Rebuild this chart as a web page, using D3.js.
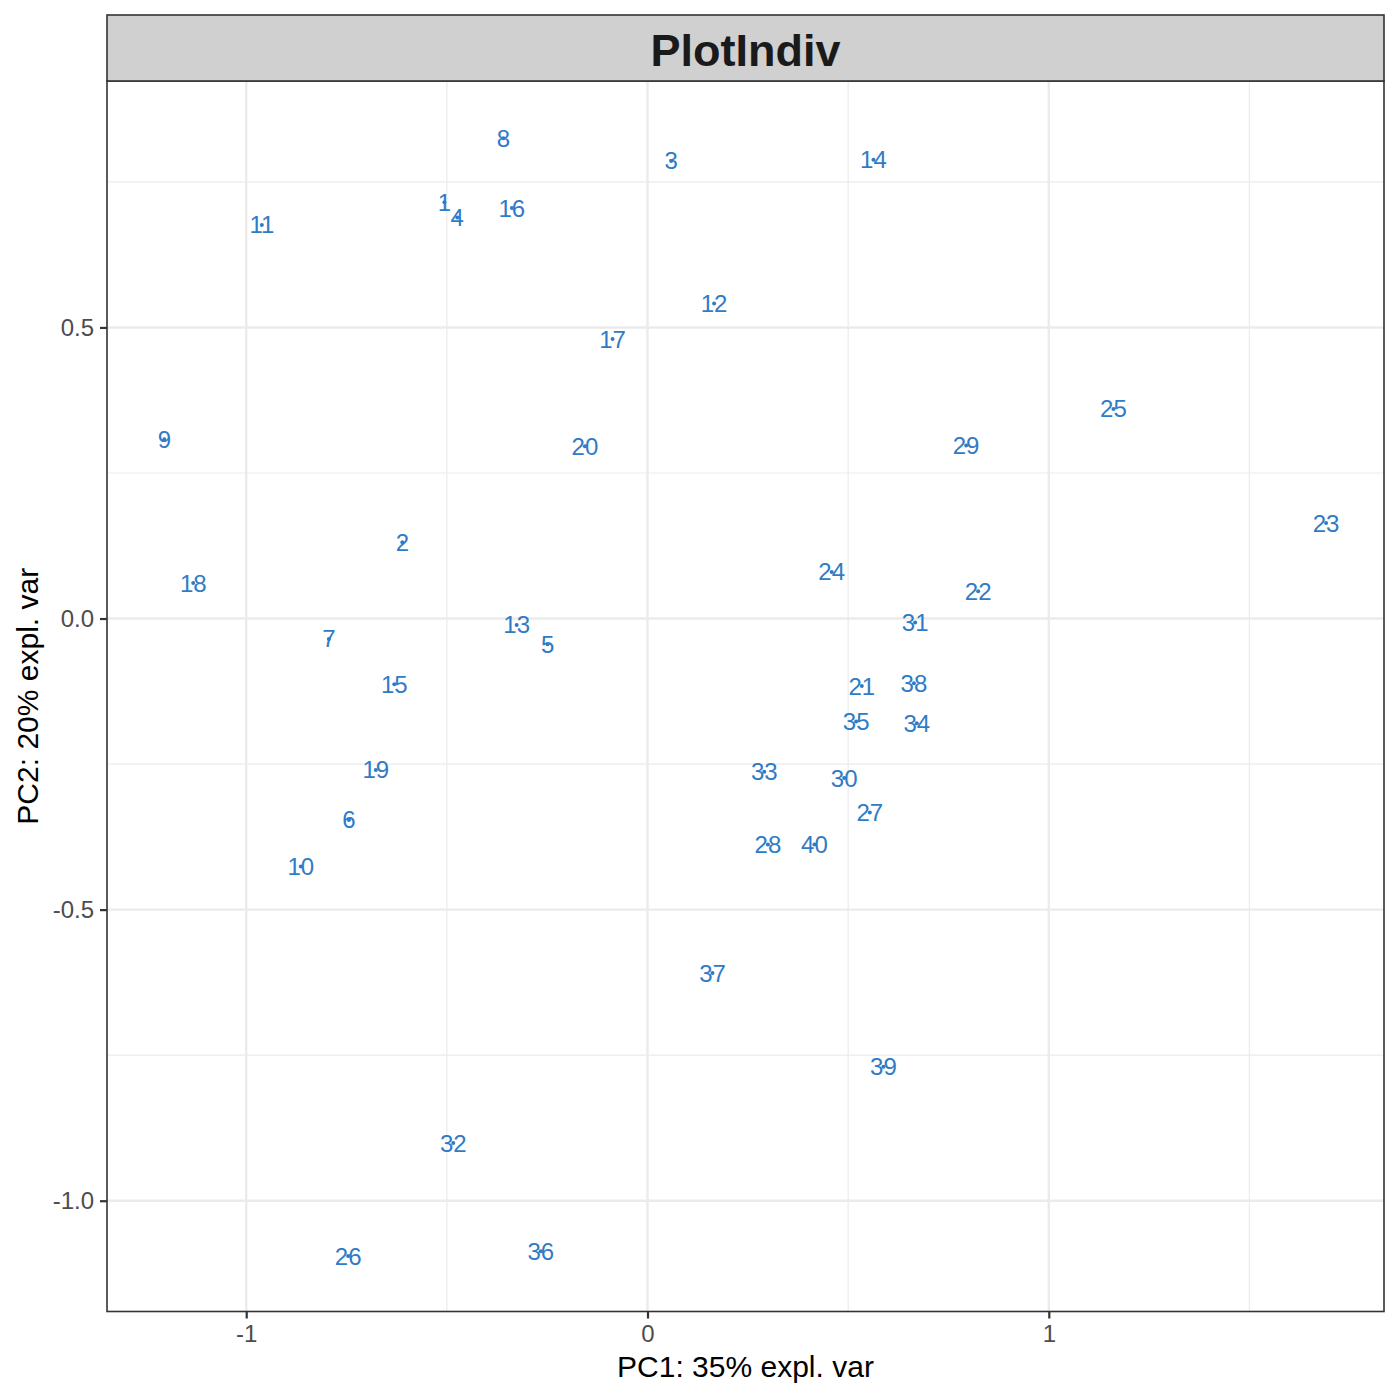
<!DOCTYPE html>
<html>
<head>
<meta charset="utf-8">
<script src="https://cdn.jsdelivr.net/npm/d3@7"></script>
<style>
  body { margin: 0; background: #fff; }
  svg { display: block; font-family: "Liberation Sans", Arial, Helvetica, sans-serif; }
</style>
</head>
<body>
<svg id="chart" width="1400" height="1400"></svg>
<script>
// ---- data ----
const names = ["1","2","3","4","5","6","7","8","9","10","11","12","13","14","15","16","17","18","19","20",
               "21","22","23","24","25","26","27","28","29","30","31","32","33","34","35","36","37","38","39","40"];
const pc1 = [-0.506,-0.611,0.059,-0.474,-0.249,-0.744,-0.794,-0.359,-1.204,-0.864,
             -0.961,0.166,-0.326,0.563,-0.631,-0.338,-0.087,-1.132,-0.677,-0.156,
             0.534,0.824,1.691,0.459,1.161,-0.746,0.554,0.300,0.794,0.490,
             0.667,-0.484,0.291,0.671,0.520,-0.266,0.162,0.664,0.588,0.416];
const pc2 = [0.715,0.131,0.786,0.689,-0.044,-0.346,-0.035,0.825,0.308,-0.426,
             0.676,0.541,-0.011,0.788,-0.113,0.705,0.480,0.061,-0.260,0.296,
             -0.116,0.047,0.164,0.080,0.360,-1.095,-0.333,-0.388,0.297,-0.274,
             -0.007,-0.901,-0.263,-0.180,-0.177,-1.087,-0.609,-0.111,-0.770,-0.388];
const xTicks = [-1, 0, 1];
const yTicks = [0.5, 0.0, -0.5, -1.0];
const xMinor = [-0.5, 0.5, 1.5];
const yMinor = [0.75, 0.25, -0.25, -0.75];
const title = "PlotIndiv";
const xLabel = "PC1: 35% expl. var";
const yLabel = "PC2: 20% expl. var";

// ---- layout ----
const panel = {left: 107, right: 1384, top: 81, bottom: 1311.5};
const strip = {top: 15, bottom: 81};
const svg = d3.select("#chart");

const x = d3.scaleLinear().domain([-1.3469, 1.8353]).range([panel.left, panel.right]);
const y = d3.scaleLinear().domain([-1.1903, 0.9233]).range([panel.bottom, panel.top]);

svg.append("rect").attr("width", 1400).attr("height", 1400).attr("fill", "#fff");

// grid
const grid = svg.append("g");
grid.selectAll(".xmin").data(xMinor.filter(v => x(v) > panel.left && x(v) < panel.right)).join("line")
  .attr("x1", d => x(d)).attr("x2", d => x(d)).attr("y1", panel.top).attr("y2", panel.bottom)
  .attr("stroke", "#EBEBEB").attr("stroke-width", 1.2);
grid.selectAll(".ymin").data(yMinor).join("line")
  .attr("y1", d => y(d)).attr("y2", d => y(d)).attr("x1", panel.left).attr("x2", panel.right)
  .attr("stroke", "#EBEBEB").attr("stroke-width", 1.2);
grid.selectAll(".xmaj").data(xTicks).join("line")
  .attr("x1", d => x(d)).attr("x2", d => x(d)).attr("y1", panel.top).attr("y2", panel.bottom)
  .attr("stroke", "#EBEBEB").attr("stroke-width", 2.4);
grid.selectAll(".ymaj").data(yTicks).join("line")
  .attr("y1", d => y(d)).attr("y2", d => y(d)).attr("x1", panel.left).attr("x2", panel.right)
  .attr("stroke", "#EBEBEB").attr("stroke-width", 2.4);

// points and labels
const pts = names.map((n, i) => ({n, x: pc1[i], y: pc2[i]}));
svg.append("g").selectAll("circle").data(pts).join("circle")
  .attr("cx", d => x(d.x)).attr("cy", d => y(d.y)).attr("r", 2)
  .attr("fill", "#2F7BC6");
svg.append("g").selectAll("text").data(pts).join("text")
  .attr("x", d => x(d.x)).attr("y", d => y(d.y) + 8.5)
  .attr("text-anchor", "middle")
  .attr("font-size", 24)
  .attr("fill", "#2F7BC6")
  .text(d => d.n);

// panel border
svg.append("rect")
  .attr("x", panel.left).attr("y", panel.top)
  .attr("width", panel.right - panel.left).attr("height", panel.bottom - panel.top)
  .attr("fill", "none").attr("stroke", "#333333").attr("stroke-width", 1.6);

// strip
svg.append("rect")
  .attr("x", panel.left).attr("y", strip.top)
  .attr("width", panel.right - panel.left).attr("height", strip.bottom - strip.top)
  .attr("fill", "#D0D0D0").attr("stroke", "#333333").attr("stroke-width", 1.6);
svg.append("text")
  .attr("x", (panel.left + panel.right) / 2).attr("y", 66)
  .attr("text-anchor", "middle").attr("font-size", 45).attr("font-weight", "bold")
  .attr("fill", "#1A1A1A").text(title);

// axes
const xAxis = d3.axisBottom(x).tickValues(xTicks).tickSize(7).tickPadding(6).tickFormat(d3.format("d"));
const gx = svg.append("g").attr("transform", `translate(0,${panel.bottom})`).call(xAxis);
gx.select(".domain").remove();
gx.selectAll(".tick line").attr("stroke", "#333333").attr("stroke-width", 2.2);
gx.selectAll(".tick text").attr("fill", "#4D4D4D").attr("font-size", 24)
  .attr("font-family", "'Liberation Sans', Arial, sans-serif").text(d => d < 0 ? "-" + Math.abs(d) : String(d));

const yAxis = d3.axisLeft(y).tickValues(yTicks).tickSize(7).tickPadding(6).tickFormat(d3.format(".1f"));
const gy = svg.append("g").attr("transform", `translate(${panel.left},0)`).call(yAxis);
gy.select(".domain").remove();
gy.selectAll(".tick line").attr("stroke", "#333333").attr("stroke-width", 2.2);
gy.selectAll(".tick text").attr("fill", "#4D4D4D").attr("font-size", 24)
  .attr("font-family", "'Liberation Sans', Arial, sans-serif").text(d => d3.format(".1f")(d).replace("−", "-"));

// axis titles
svg.append("text").attr("x", (panel.left + panel.right) / 2).attr("y", 1377)
  .attr("text-anchor", "middle").attr("font-size", 30).attr("fill", "#000").text(xLabel);
svg.append("text").attr("transform", `translate(38,${(panel.top + panel.bottom) / 2}) rotate(-90)`)
  .attr("text-anchor", "middle").attr("font-size", 30).attr("fill", "#000").text(yLabel);
</script>
</body>
</html>
